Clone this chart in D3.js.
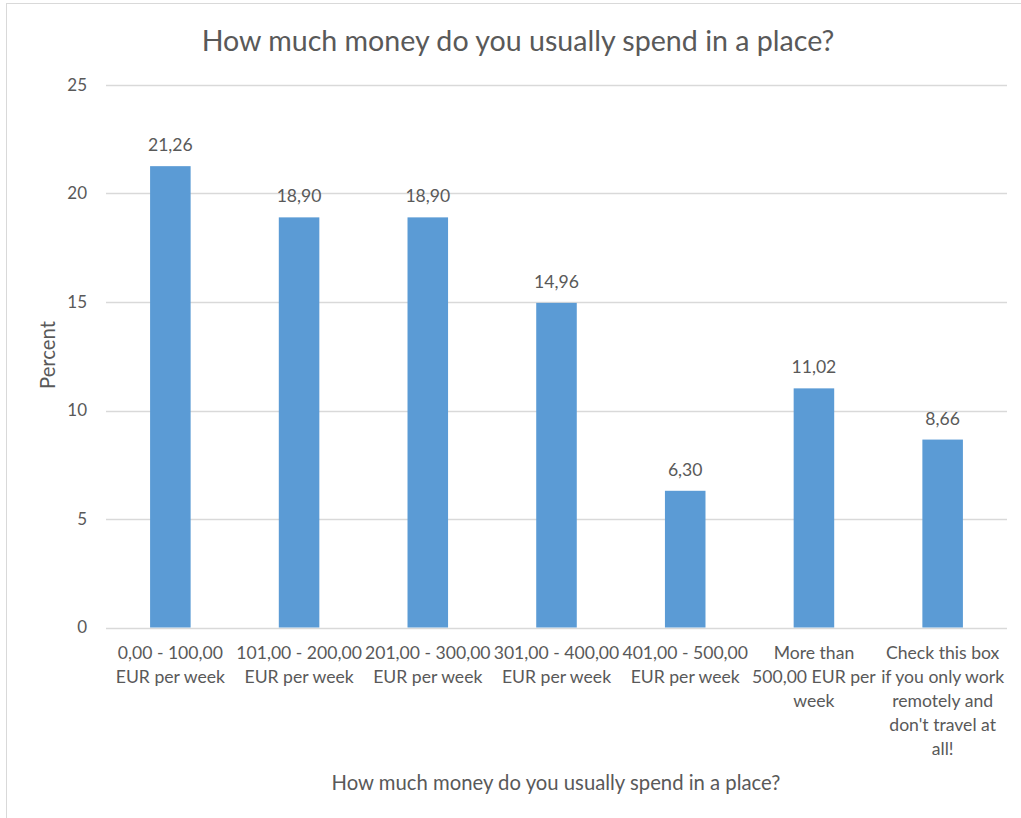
<!DOCTYPE html>
<html>
<head>
<meta charset="utf-8">
<script src="https://cdn.jsdelivr.net/npm/d3@7"></script>
<style>
  html, body { margin: 0; padding: 0; background: #fff; }
  svg { display: block; }
  text { font-family: Lato, "Open Sans", sans-serif; fill: #595959; }
</style>
</head>
<body>
<svg id="chart" width="1021" height="818"></svg>
<script>
const title = "How much money do you usually spend in a place?";
const xAxisTitle = "How much money do you usually spend in a place?";
const yAxisTitle = "Percent";
const categories = [
  ["0,00 - 100,00", "EUR per week"],
  ["101,00 - 200,00", "EUR per week"],
  ["201,00 - 300,00", "EUR per week"],
  ["301,00 - 400,00", "EUR per week"],
  ["401,00 - 500,00", "EUR per week"],
  ["More than", "500,00 EUR per", "week"],
  ["Check this box", "if you only work", "remotely and", "don't travel at", "all!"]
];
const values = [21.26, 18.90, 18.90, 14.96, 6.30, 11.02, 8.66];
const yTicks = [0, 5, 10, 15, 20, 25];

const svg = d3.select("#chart");
const W = 1021, H = 818;
const plot = { left: 106, right: 1007, top: 85, bottom: 627.5 };

svg.append("rect").attr("x", 6.5).attr("y", 3.5).attr("width", W + 10).attr("height", H + 10)
  .attr("fill", "#fff").attr("stroke", "#d9d9d9");

const x = d3.scaleBand().domain(d3.range(categories.length)).range([plot.left, plot.right]).padding(0);
const y = d3.scaleLinear().domain([0, 25]).range([plot.bottom, plot.top]);
const barW = x.bandwidth() * 0.315;

// gridlines
svg.append("g").selectAll("line").data(yTicks).join("line")
  .attr("x1", plot.left).attr("x2", plot.right)
  .attr("y1", d => Math.round(y(d)) + 0.5).attr("y2", d => Math.round(y(d)) + 0.5)
  .attr("stroke", "#d9d9d9").attr("stroke-width", 1.3);

// y tick labels
svg.append("g").selectAll("text").data(yTicks).join("text")
  .attr("x", 87).attr("y", d => y(d)).attr("dy", "0.35em")
  .attr("text-anchor", "end").attr("font-size", 17).text(d => d);

// bars
svg.append("g").selectAll("rect").data(values).join("rect")
  .attr("x", (d, i) => x(i) + x.bandwidth() / 2 - barW / 2)
  .attr("width", barW)
  .attr("y", d => y(d))
  .attr("height", d => y(0) - y(d))
  .attr("fill", "#5b9bd5");

// data labels
svg.append("g").selectAll("text").data(values).join("text")
  .attr("x", (d, i) => x(i) + x.bandwidth() / 2)
  .attr("y", d => y(d) - 15)
  .attr("text-anchor", "middle").attr("font-size", 17.6)
  .text(d => d.toFixed(2).replace(".", ","));

// category labels
const cat = svg.append("g").selectAll("text").data(categories).join("text")
  .attr("text-anchor", "middle").attr("font-size", 17.6);
cat.selectAll("tspan").data((d, i) => d.map(line => ({ line, i }))).join("tspan")
  .attr("x", d => x(d.i) + x.bandwidth() / 2)
  .attr("y", (d, j) => 659 + j * 24)
  .text(d => d.line);

// title
svg.append("text").attr("x", 518).attr("y", 51).attr("text-anchor", "middle")
  .attr("font-size", 28.6).text(title);

// x axis title
svg.append("text").attr("x", 556).attr("y", 790).attr("text-anchor", "middle")
  .attr("font-size", 20.3).text(xAxisTitle);

// y axis title
svg.append("text").attr("transform", "translate(55,355) rotate(-90)")
  .attr("text-anchor", "middle").attr("font-size", 20.3).text(yAxisTitle);
</script>
</body>
</html>
